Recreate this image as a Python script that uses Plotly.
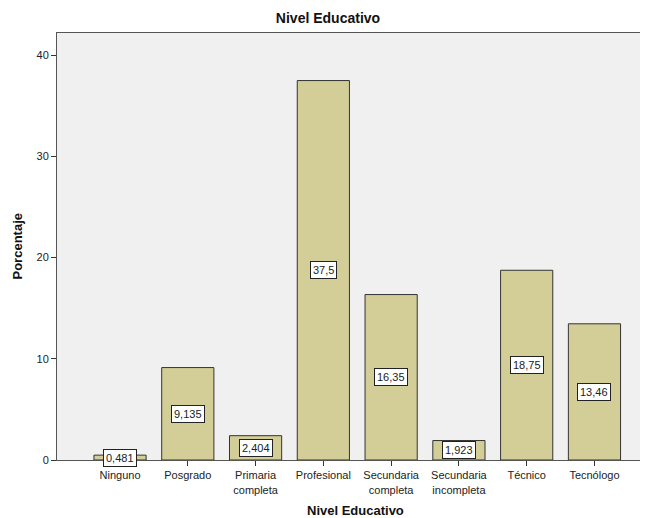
import plotly.graph_objects as go

categories = ["Ninguno", "Posgrado", "Primaria<br>completa", "Profesional",
              "Secundaria<br>completa", "Secundaria<br>incompleta", "Técnico", "Tecnólogo"]
values = [0.481, 9.135, 2.404, 37.5, 16.35, 1.923, 18.75, 13.46]
y_ticks = [0, 10, 20, 30, 40]

labels = [str(v).replace(".", ",") for v in values]
xs = list(range(len(categories)))

FONT = "Liberation Sans, Arial, sans-serif"

fig = go.Figure()
fig.add_trace(go.Bar(
    x=xs, y=values, width=0.77,
    marker=dict(color="#D3CE97", line=dict(color="#333333", width=1)),
    hoverinfo="skip",
))

for x, v, t in zip(xs, values, labels):
    fig.add_annotation(x=x, y=v / 2, text=t, showarrow=False,
                       font=dict(family=FONT, size=11, color="#222"),
                       bgcolor="white", bordercolor="#222", borderwidth=1, borderpad=2)

# axis titles
fig.add_annotation(xref="paper", yref="paper", x=0, y=0.5, xshift=-40,
                   text="<b>Porcentaje</b>", textangle=-90, showarrow=False,
                   xanchor="center", yanchor="middle",
                   font=dict(family=FONT, size=13, color="#111"))
fig.add_annotation(xref="paper", yref="paper", x=0.5, y=0, yshift=-50, xshift=3,
                   text="<b>Nivel Educativo</b>", showarrow=False,
                   xanchor="center", yanchor="middle",
                   font=dict(family=FONT, size=13, color="#111"))

fig.update_layout(
    width=640, height=510,
    margin=dict(l=49, r=0, t=25, b=58, autoexpand=False),
    paper_bgcolor="white", plot_bgcolor="#F0F0F0",
    showlegend=False,
    font=dict(family=FONT, size=11, color="#222"),
    title=dict(text="<b>Nivel Educativo</b>", x=0.5, xanchor="center", y=0.98, yanchor="middle",
               font=dict(size=14, color="#111")),
    xaxis=dict(
        tickmode="array", tickvals=xs, ticktext=categories,
        range=[-0.93, 7.79], showgrid=False, zeroline=False,
        showline=True, linecolor="#555", linewidth=1, mirror=True,
        ticks="outside", ticklen=5, tickcolor="#333",
        tickfont=dict(size=11), automargin=False,
    ),
    yaxis=dict(
        tickmode="array", tickvals=y_ticks,
        range=[0, 42.2], showgrid=False, zeroline=False,
        showline=True, linecolor="#555", linewidth=1,
        ticks="outside", ticklen=5, tickcolor="#333",
        tickfont=dict(size=11), automargin=False,
    ),
)

fig.write_html("out.html")
